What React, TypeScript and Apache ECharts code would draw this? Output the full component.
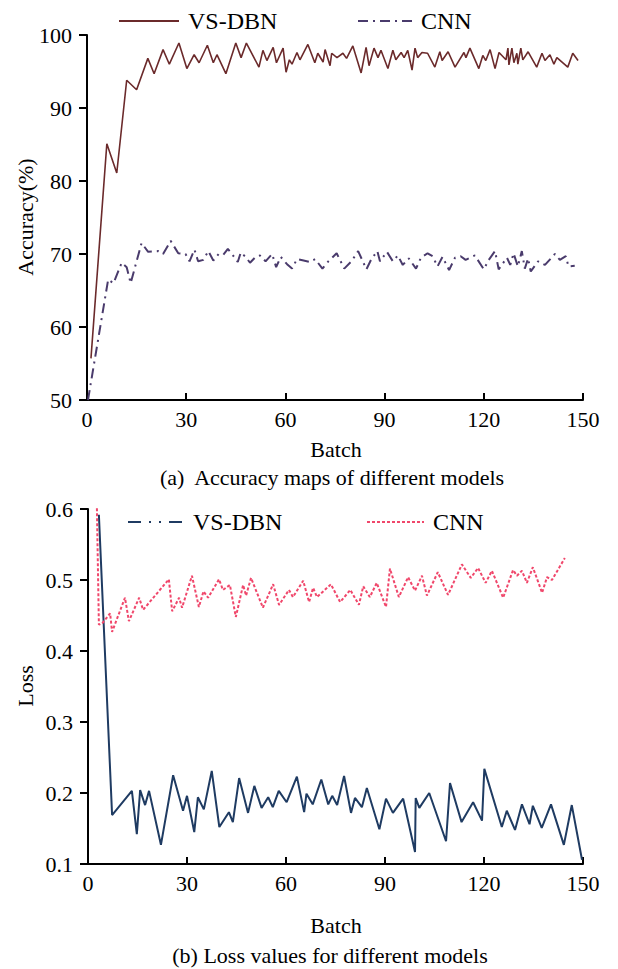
import React, { useEffect, useRef } from "react";
import * as echarts from "echarts";

// ---- (a) accuracy per batch ----
const accDbnBatch = [1.2, 6, 9, 12, 15, 18.4, 20.3, 23, 24.9, 27.8, 30.2, 32.4, 33.9, 36.4, 38.2, 39.3, 42, 45, 46.6, 48.2, 52, 53.2, 54.4, 56.3, 57.3, 59.3, 60.2, 61.2, 62, 63.5, 64.4, 66.8, 68.9, 69.8, 71.4, 72, 73.5, 74, 75.6, 77.4, 78.5, 80.4, 82.9, 84.4, 85.3, 86.8, 88, 88.9, 91, 92.5, 93.4, 95, 95.9, 97, 98.3, 99.2, 100, 101.3, 103, 105.2, 106.7, 107.4, 109.2, 111.3, 114, 114.6, 115.8, 118.5, 119.7, 120.6, 121.9, 123.4, 124.6, 126.7, 127.3, 127.6, 128.5, 129.1, 130, 130.3, 131.2, 131.8, 133.4, 136, 137.6, 138.5, 140, 141.2, 142.1, 145.4, 146.9, 148.5];
const accDbn = [55.7, 85.1, 81.1, 93.8, 92.5, 96.8, 94.7, 98, 96, 98.9, 95.4, 97.3, 96.2, 98.6, 96.2, 97.3, 94.7, 98.9, 96.9, 98.9, 95.6, 97.9, 96.5, 98.3, 96.2, 98.2, 94.9, 96.6, 96, 97.6, 96.6, 98.7, 96.2, 97.5, 96.3, 98, 95.8, 97.5, 96.9, 97.5, 96.8, 98.5, 94.8, 98.3, 95.8, 98.2, 96.9, 97.9, 95.4, 97.9, 96.6, 97.6, 96.9, 97.9, 95.2, 98.2, 96.9, 97.6, 97.5, 95.6, 97.7, 96.5, 97.7, 95.6, 97.6, 96.9, 98.2, 95.4, 97.2, 96.5, 98, 95.4, 97.6, 96.6, 98.2, 95.9, 98.2, 96.2, 97.5, 96, 98.2, 96.6, 97.7, 95.6, 97.5, 96.5, 97.3, 96, 96.9, 95.6, 97.5, 96.5];

const accCnnBatch = [0.3, 6.4, 8, 10.5, 12, 13.2, 16.5, 18.5, 21.5, 23, 25.3, 27.6, 29.8, 31, 32.5, 33.6, 35.2, 36.7, 38.2, 39.8, 41.2, 42.6, 44, 45.6, 46.5, 48, 49.3, 50.8, 52.3, 54, 56, 57.2, 58.6, 60.5, 62, 63.5, 65.5, 67.4, 69, 71.2, 73, 75.5, 77.8, 80, 82, 84.5, 86, 87.8, 88.6, 90.7, 92.5, 94, 95.5, 97.3, 99.5, 101, 103, 104.5, 106, 107.5, 109.5, 111.3, 113, 114.5, 117.3, 120, 121.5, 123.4, 124.5, 127, 128, 129, 130.3, 131.5, 132.4, 133.4, 134.2, 136.4, 138.5, 141.5, 143, 144.8, 145.6, 147.5];
const accCnn = [50, 66.5, 66, 68.8, 68.2, 66, 71.5, 70.3, 70.4, 70, 71.8, 70.1, 70, 69, 70.6, 69, 69.2, 70.4, 69.1, 70, 69.9, 70.7, 69.9, 68.9, 70.2, 69.6, 68.8, 69.5, 69.8, 69, 70, 68.2, 69.6, 68.6, 68, 69.3, 69.1, 68.9, 69.3, 68, 69, 70.1, 68, 69, 70.4, 67.9, 69.3, 70.4, 69, 70.3, 69, 69.8, 68.5, 69.4, 68, 69.5, 70.1, 69.7, 68.3, 69.6, 67.8, 69.5, 69.7, 69.2, 69.8, 67.9, 69.2, 70.4, 67.9, 69.5, 68.5, 70.1, 68.3, 70.4, 68, 69.4, 67.6, 69, 68.5, 70, 69.2, 69.7, 68.3, 68.4];

// ---- (b) loss per batch ----
const lossDbnBatch = [3.3, 7.3, 13.3, 14.8, 15.8, 17.3, 18.5, 22.1, 25.8, 28.8, 30, 32.2, 33.3, 35.1, 37.5, 39.8, 42.7, 43.9, 45.8, 48.5, 50.4, 52.6, 54.6, 56, 57.8, 60.2, 63.3, 65.5, 66.2, 68.1, 70.7, 72.8, 74, 75.5, 77.6, 79.7, 80.9, 83, 84.5, 88.3, 90.3, 92.4, 95.5, 99.1, 99.3, 100.4, 103.4, 108.5, 109.7, 113.2, 116.7, 119.4, 120.1, 125.4, 126.9, 129.4, 131.5, 133.8, 134.8, 137.5, 140.3, 144.2, 146.6, 149.7];
const lossDbn = [0.592, 0.169, 0.203, 0.142, 0.204, 0.183, 0.203, 0.127, 0.225, 0.175, 0.196, 0.145, 0.194, 0.177, 0.231, 0.152, 0.173, 0.159, 0.221, 0.172, 0.21, 0.179, 0.194, 0.18, 0.203, 0.187, 0.223, 0.173, 0.199, 0.184, 0.219, 0.184, 0.196, 0.183, 0.224, 0.172, 0.193, 0.18, 0.207, 0.149, 0.192, 0.172, 0.192, 0.117, 0.193, 0.179, 0.2, 0.132, 0.214, 0.159, 0.187, 0.161, 0.234, 0.152, 0.175, 0.148, 0.184, 0.156, 0.182, 0.151, 0.184, 0.127, 0.183, 0.106];

const lossCnnBatch = [2.7, 3.3, 4.5, 6.7, 7.3, 11.2, 12.4, 15.5, 16.7, 24.5, 25.5, 27.6, 28.5, 31.5, 33.6, 35, 36.4, 39.7, 40.9, 43, 44.8, 47, 47.9, 49.4, 53, 56.1, 57.9, 60.9, 62.1, 65.2, 67, 68.2, 69.4, 73.6, 76.4, 79.5, 82.1, 83.4, 85.4, 87.5, 90.3, 91.5, 94.2, 97, 99.1, 101.2, 102.7, 106, 109.1, 113.3, 116, 118.2, 120.5, 122.4, 125.8, 128.8, 130, 131.5, 133, 134.8, 137.6, 139.1, 140.6, 144.5];
const lossCnn = [0.601, 0.437, 0.44, 0.453, 0.427, 0.475, 0.442, 0.475, 0.458, 0.501, 0.456, 0.475, 0.461, 0.506, 0.462, 0.484, 0.475, 0.501, 0.486, 0.493, 0.448, 0.493, 0.478, 0.503, 0.461, 0.494, 0.465, 0.486, 0.476, 0.499, 0.469, 0.489, 0.476, 0.494, 0.469, 0.486, 0.465, 0.491, 0.476, 0.496, 0.462, 0.516, 0.476, 0.504, 0.485, 0.506, 0.478, 0.511, 0.479, 0.522, 0.503, 0.517, 0.496, 0.513, 0.475, 0.514, 0.506, 0.513, 0.496, 0.518, 0.482, 0.504, 0.5, 0.531];

const batchTicks = { min: 0, max: 150, interval: 30 };
const accTicks = { min: 50, max: 100, interval: 10 };
const lossTicks = { min: 0.1, max: 0.6, interval: 0.1 };

const FONT = "'Liberation Serif', 'Times New Roman', serif";
const C_DBN_A = "#6b2a2b";
const C_CNN_A = "#4a3b6c";
const C_DBN_B = "#1f3b62";
const C_CNN_B = "#f0476b";

const pairs = (xs: number[], ys: number[]) => xs.map((x, i) => [x, ys[i]]);

function xAxisCfg(grid: number) {
  return {
    type: "value",
    gridIndex: grid,
    ...batchTicks,
    axisLine: { show: true, onZero: false, lineStyle: { color: "#000", width: 2 } },
    axisTick: { show: true, inside: true, length: 7, lineStyle: { color: "#000", width: 2 } },
    axisLabel: { color: "#000", fontFamily: FONT, fontSize: 22, margin: 8 },
    splitLine: { show: false },
  };
}

function yAxisCfg(grid: number, ticks: any, fmt?: (v: number) => string) {
  return {
    type: "value",
    gridIndex: grid,
    ...ticks,
    axisLine: { show: true, onZero: false, lineStyle: { color: "#000", width: 2 } },
    axisTick: { show: true, inside: false, length: 8, lineStyle: { color: "#000", width: 2 } },
    axisLabel: { color: "#000", fontFamily: FONT, fontSize: 22, margin: 15, formatter: fmt },
    splitLine: { show: false },
  };
}

// one legend entry: the symbol is hidden so only the line sample shows
function legendCfg(name: string, left: number, top: number, w: number, line?: any) {
  const item: any = { name, itemStyle: { opacity: 0 } };
  if (line) item.lineStyle = line;
  return {
    data: [item],
    left,
    top,
    itemWidth: w,
    itemHeight: 14,
    itemGap: 0,
    itemStyle: { opacity: 0 },
    textStyle: { color: "#000", fontFamily: FONT, fontSize: 24, padding: [0, 0, 0, 4] },
  };
}

function caption(text: string, x: number, y: number, size = 22) {
  return {
    type: "text",
    x,
    y,
    style: { text, fill: "#000", font: `${size}px ${FONT}`, align: "center", verticalAlign: "middle" },
  };
}

export default function App() {
  const ref = useRef<HTMLDivElement>(null);

  useEffect(() => {
    if (!ref.current) return;
    const chart = echarts.init(ref.current, undefined, { renderer: "svg" });
    chart.setOption({
      animation: false,
      backgroundColor: "#fff",
      grid: [
        { left: 87, top: 35, width: 496, height: 365 },
        { left: 88, top: 509, width: 495, height: 355 },
      ],
      xAxis: [xAxisCfg(0), xAxisCfg(1)],
      yAxis: [
        yAxisCfg(0, accTicks),
        yAxisCfg(1, lossTicks, (v: number) => v.toFixed(1)),
      ],
      legend: [
        legendCfg("VS-DBN", 113, 4, 60),
        legendCfg("CNN", 352, 4, 54),
        legendCfg("VS-DBN", 122, 505, 56, { color: C_DBN_B, width: 2, type: [13, 8, 2, 8, 2, 8] }),
        legendCfg("CNN", 361, 505, 57, { color: C_CNN_B, width: 2, type: [3, 2] }),
      ],
      graphic: [
        { type: "text", x: 25, y: 217, rotation: Math.PI / 2, style: { text: "Accuracy(%)", fill: "#000", font: `22px ${FONT}`, align: "center", verticalAlign: "middle" } },
        caption("Batch", 336, 449),
        caption("(a)  Accuracy maps of different models", 332, 477),
        { type: "text", x: 25, y: 686, rotation: Math.PI / 2, style: { text: "Loss", fill: "#000", font: `22px ${FONT}`, align: "center", verticalAlign: "middle" } },
        caption("Batch", 336, 925),
        caption("(b) Loss values for different models", 330, 955),
      ],
      series: [
        {
          name: "VS-DBN", type: "line", xAxisIndex: 0, yAxisIndex: 0, symbol: "none",
          data: pairs(accDbnBatch, accDbn),
          lineStyle: { color: C_DBN_A, width: 1.6 }, itemStyle: { color: C_DBN_A },
        },
        {
          name: "CNN", type: "line", xAxisIndex: 0, yAxisIndex: 0, symbol: "none",
          data: pairs(accCnnBatch, accCnn),
          lineStyle: { color: C_CNN_A, width: 2, type: [10, 5, 2, 5] }, itemStyle: { color: C_CNN_A },
        },
        {
          name: "VS-DBN", type: "line", xAxisIndex: 1, yAxisIndex: 1, symbol: "none",
          data: pairs(lossDbnBatch, lossDbn),
          lineStyle: { color: C_DBN_B, width: 2 }, itemStyle: { color: C_DBN_B },
        },
        {
          name: "CNN", type: "line", xAxisIndex: 1, yAxisIndex: 1, symbol: "none",
          data: pairs(lossCnnBatch, lossCnn),
          lineStyle: { color: C_CNN_B, width: 2, type: [3, 2] }, itemStyle: { color: C_CNN_B },
        },
      ],
    });
    return () => chart.dispose();
  }, []);

  return (
    <div
      ref={ref}
      style={{ position: "absolute", left: 0, top: 0, width: 618, height: 969, background: "#fff" }}
    />
  );
}
